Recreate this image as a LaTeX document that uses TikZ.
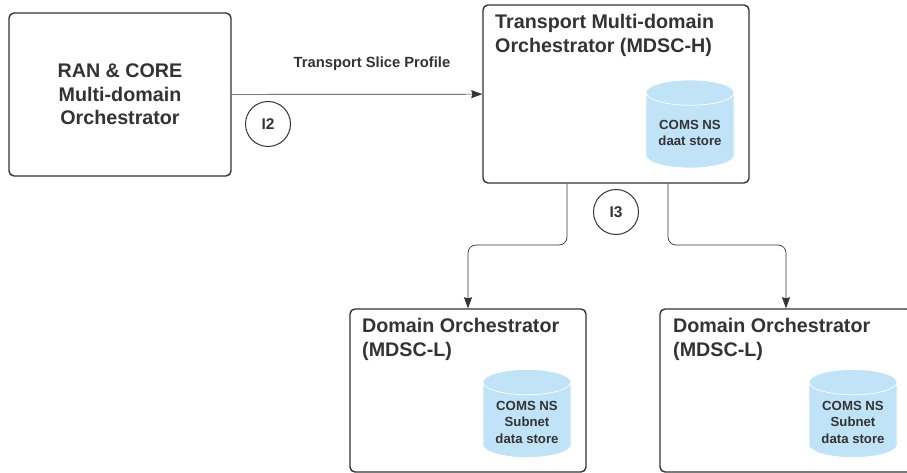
\documentclass[tikz,border=0pt]{standalone}
\usepackage{fontspec}
\setmainfont{Liberation Sans}
\usetikzlibrary{shapes.geometric,arrows.meta}
\definecolor{inkgray}{HTML}{333333}
\definecolor{storeblue}{HTML}{C1E3F7}
\newcommand{\storelift}{\rule{0pt}{14pt}}
\tikzset{
  orchbox/.style={shape=rectangle,draw=inkgray,line width=1.4pt,rounded corners=5pt,inner sep=0pt,text=inkgray,align=center},
  titletext/.style={anchor=west,inner sep=0pt,text=inkgray,align=left,font=\fontsize{19.7}{24}\selectfont\bfseries},
  store/.style={shape=cylinder,shape border rotate=90,aspect=0.4,draw=white,line width=0.7pt,fill=storeblue,
    minimum width=88pt,minimum height=88pt,inner sep=0pt,text=inkgray,align=center,
    font=\fontsize{13.2}{16.7}\selectfont\bfseries},
  iface/.style={shape=circle,draw=inkgray,line width=1pt,minimum size=45pt,inner sep=0pt,text=inkgray,
    font=\fontsize{15.5}{18}\selectfont\bfseries},
  link/.style={draw=inkgray,line width=0.7pt,-{Stealth[length=11pt,width=8pt,inset=1pt]}},
}
\begin{document}
\begin{tikzpicture}[x=1pt,y=-1pt]
\useasboundingbox [clip] (0,0) rectangle (907,473);
\node (ran) at (120,94.5) [orchbox,minimum width=222pt,minimum height=163pt,font=\fontsize{19.7}{23.7}\selectfont\bfseries] {RAN \& CORE\\Multi-domain\\Orchestrator};
\node (transport) at (616,94) [orchbox,minimum width=266pt,minimum height=178pt] {};
\node (mdscl) at (468,390.5) [orchbox,minimum width=236pt,minimum height=163pt] {};
\node (mdscr) at (786,390.5) [orchbox,minimum width=252pt,minimum height=163pt] {};
% titles and stores inside the boxes
\node (transporttitle) at (495,33) [titletext,yshift=-2pt] {Transport Multi-domain\\Orchestrator (MDSC-H)};
\node (mdscltitle) at (362,339) [titletext] {Domain Orchestrator\\(MDSC-L)};
\node (mdscrtitle) at (673,339) [titletext] {Domain Orchestrator\\(MDSC-L)};
\node (coms) at (690,130.5) [store] {\storelift COMS NS\\daat store};
\node (subnetl) at (527,420) [store] {\storelift COMS NS\\Subnet\\data store};
\node (subnetr) at (853,420) [store] {\storelift COMS NS\\Subnet\\data store};
\node (profile) at (372,64) [inner sep=0pt,text=inkgray,font=\fontsize{14.75}{17}\selectfont\bfseries] {Transport Slice Profile};
\node (i2) at (268,124) [iface] {I2};
\node (i3) at (616,212) [iface] {I3};
\coordinate (bendl) at (567,245);
\coordinate (bendr) at (668,245);
\draw [link] (ran) -- (transport);
\draw [link,rounded corners=8pt] (bendl |- transport.south) -- (bendl) -| (mdscl.north);
\draw [link,rounded corners=8pt] (bendr |- transport.south) -- (bendr) -| (mdscr.north);
\end{tikzpicture}
\end{document}
